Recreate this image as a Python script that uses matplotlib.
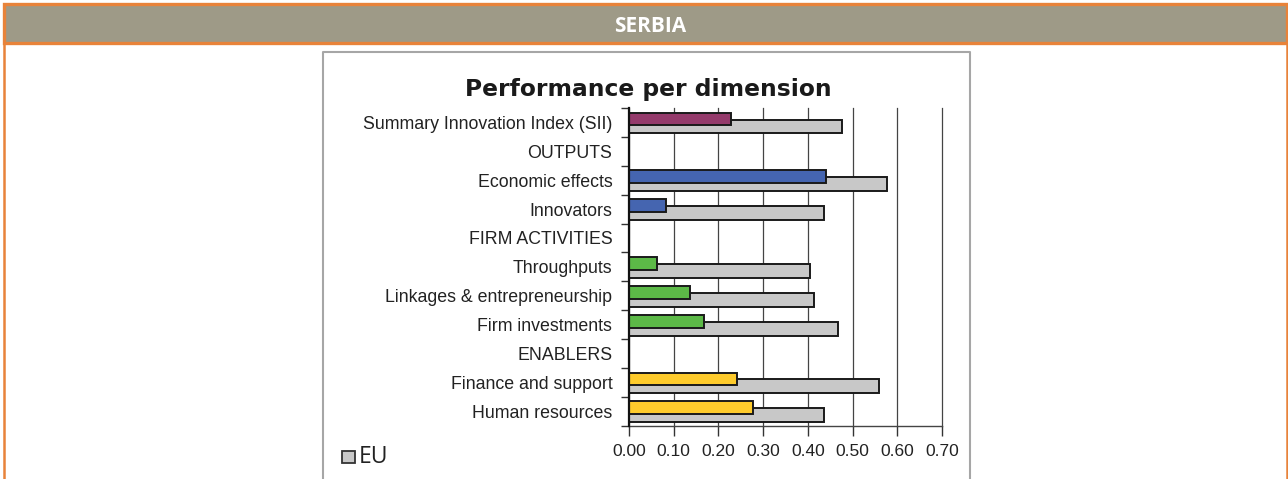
import numpy as np
import matplotlib
matplotlib.use("Agg")
import matplotlib.pyplot as plt
from matplotlib.patches import Rectangle
from matplotlib.lines import Line2D

# categories, top to bottom
categories = [
    "Summary Innovation Index (SII)",
    "OUTPUTS",
    "Economic effects",
    "Innovators",
    "FIRM ACTIVITIES",
    "Throughputs",
    "Linkages & entrepreneurship",
    "Firm investments",
    "ENABLERS",
    "Finance and support",
    "Human resources",
]
serbia = [0.227, np.nan, 0.441, 0.082, np.nan, 0.063, 0.136, 0.168, np.nan, 0.241, 0.277]
eu = [0.477, np.nan, 0.577, 0.436, np.nan, 0.404, 0.413, 0.468, np.nan, 0.559, 0.436]
bar_colors = ["#943a6b", None, "#4565b0", "#4565b0", None,
              "#5cb947", "#5cb947", "#5cb947", None, "#fecb2c", "#fecb2c"]
x_ticks = [0.0, 0.1, 0.2, 0.3, 0.4, 0.5, 0.6, 0.7]

W, H = 1288, 479
fig = plt.figure(figsize=(W / 100, H / 100), dpi=100)

def fx(px):
    return px / W

def fy(py):
    return 1 - py / H

# page frame and header band
orange = "#e8833a"
fig.patches.append(Rectangle((fx(3.5), fy(43)), fx(1283), fy(3.5) - fy(43),
                             transform=fig.transFigure, facecolor="#9e9a87",
                             edgecolor=orange, linewidth=2.4, zorder=0))
fig.lines.append(Line2D([fx(3.5), fx(3.5)], [fy(43), 0], transform=fig.transFigure,
                        color=orange, linewidth=1.8))
fig.lines.append(Line2D([fx(1286.5), fx(1286.5)], [fy(43), 0], transform=fig.transFigure,
                        color=orange, linewidth=1.8))
fig.text(fx(650), fy(26.5), "SERBIA", color="white", fontsize=15, fontweight="bold",
         family="Open Sans", ha="center", va="center")

# chart box
box = "#a6a6a6"
fig.lines.append(Line2D([fx(323), fx(323), fx(970), fx(970)], [0, fy(52), fy(52), 0],
                        transform=fig.transFigure, color=box, linewidth=1.5))

ax = fig.add_axes([fx(629), fy(425.7), fx(942) - fx(629), fy(108) - fy(425.7)])

y = np.arange(len(categories))
ax.barh(y + 0.14, eu, height=0.48, color="#c8c8c8", edgecolor="#1a1a1a",
        linewidth=1.4, zorder=2)
ax.barh(y - 0.12, serbia, height=0.44, color=[c or "white" for c in bar_colors],
        edgecolor="#1a1a1a", linewidth=1.4, zorder=3)

ax.set_xlim(0, 0.7)
ax.set_ylim(len(categories) - 0.5, -0.5)
ax.set_xticks(x_ticks)
ax.set_xticklabels([f"{v:.2f}" for v in x_ticks], family="Liberation Sans",
                   fontsize=12.5, color="#222222")
ax.set_yticks(np.arange(len(categories) + 1) - 0.5)
ax.set_yticklabels([])
ax.set_yticks(y, minor=True)
ax.set_yticklabels(categories, minor=True, family="Liberation Sans", fontsize=12.8,
                   color="#222222")
ax.tick_params(axis="y", which="minor", length=0, pad=12)
ax.tick_params(axis="y", which="major", length=6, width=1, color="#333333")
ax.tick_params(axis="x", length=7, width=1, color="#333333", pad=6)

ax.grid(axis="x", color="#444444", linewidth=0.9, zorder=0)
for line in ax.get_xgridlines():
    line.set_clip_on(False)
ax.set_axisbelow(True)
for side in ["top", "right"]:
    ax.spines[side].set_visible(False)
ax.spines["left"].set_linewidth(1.6)
ax.spines["left"].set_color("#111111")
ax.spines["bottom"].set_linewidth(1.0)
ax.spines["bottom"].set_color("#444444")
ax.spines["left"].set_zorder(4)

fig.text(fx(648), fy(89), "Performance per dimension", fontsize=16.8, fontweight="bold",
         family="DejaVu Sans", color="#1a1a1a", ha="center", va="center")

# legend
fig.patches.append(Rectangle((fx(342), fy(463)), fx(13), fy(450.5) - fy(463),
                             transform=fig.transFigure, facecolor="#c8c8c8",
                             edgecolor="#333333", linewidth=1.3))
fig.text(fx(359), fy(457), "EU", fontsize=16.5, family="Open Sans", color="#222222",
         ha="left", va="center")

fig.savefig("out.png", dpi=100)
